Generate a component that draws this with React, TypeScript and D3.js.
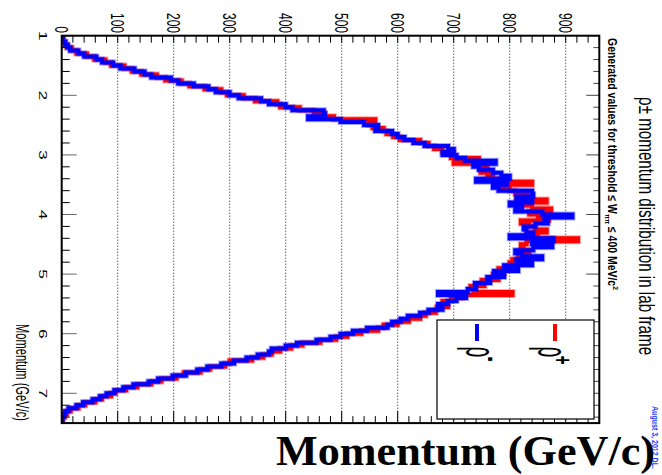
import React, { useEffect, useRef } from 'react';
import * as d3 from 'd3';

const W = 662;
const H = 475;

// ---- data ----
const momentumRange = [1, 7.5];
const countRange = [0, 960];
const countTicks = [0, 100, 200, 300, 400, 500, 600, 700, 800, 900];
const momentumTicks = [1, 2, 3, 4, 5, 6, 7];
const seriesNames = ['ρ⁻', 'ρ⁺'];

// ρ- (blue), 130 bins of 0.05 GeV/c from 1 to 7.5
const rhoMinus = [
  1, 2, 6, 11, 15, 30, 40, 62, 72, 92,
  105, 130, 148, 160, 195, 208, 236, 262, 275, 300,
  316, 356, 370, 400, 412, 468, 470, 440, 498, 540,
  565, 560, 590, 600, 612, 628, 648, 690, 700, 680,
  705, 720, 775, 735, 745, 770, 785, 800, 740, 795,
  770, 780, 840, 842, 812, 840, 800, 822, 810, 858,
  912, 862, 868, 846, 825, 830, 842, 800, 878, 840,
  876, 842, 810, 822, 858, 812, 840, 790, 815, 772,
  790, 760, 765, 738, 740, 725, 672, 722, 705, 690,
  672, 680, 655, 640, 618, 605, 590, 582, 545, 520,
  498, 480, 455, 420, 400, 375, 370, 350, 330, 308,
  285, 260, 242, 222, 198, 172, 155, 128, 110, 94,
  80, 68, 55, 38, 26, 12, 6, 3, 1, 0,
];

// ρ+ (red)
const rhoPlus = [
  1, 3, 7, 9, 18, 26, 45, 58, 78, 88,
  112, 125, 142, 170, 185, 214, 228, 255, 285, 295,
  325, 345, 385, 390, 425, 450, 470, 486, 560, 548,
  555, 575, 580, 592, 604, 640, 655, 665, 680, 700,
  695, 745, 700, 750, 760, 748, 770, 760, 790, 840,
  785, 800, 810, 832, 812, 866, 826, 840, 874, 835,
  850, 870, 820, 835, 845, 866, 830, 850, 922, 830,
  820, 825, 835, 815, 820, 805, 800, 805, 780, 790,
  770, 780, 750, 755, 730, 735, 805, 715, 695, 680,
  690, 670, 668, 650, 640, 620, 600, 575, 565, 535,
  510, 490, 462, 430, 410, 390, 375, 360, 340, 300,
  292, 265, 248, 218, 205, 178, 160, 135, 115, 96,
  88, 72, 60, 42, 30, 16, 9, 5, 2, 0,
];

const titleText = 'ρ± momentum distribution in lab frame';
const axisTitle = 'Momentum (GeV/c)';
const dateText = 'August 3, 2012 DL.';

// ---- layout ----
const FX0 = 61.7, FX1 = 599.3, FY0 = 35.7, FY1 = 423.1;
const SANS = 'Liberation Sans, Arial, Helvetica, sans-serif';
const SERIF = 'Liberation Serif, Times New Roman, serif';
const RED = '#ff0000';
const BLUE = '#0000ff';

const xS = d3.scaleLinear().domain(countRange).range([FX0, FX1]);
const yS = d3.scaleLinear().domain(momentumRange).range([FY0, FY1]);

function stepPoints(vals: number[]): [number, number][] {
  const lo = momentumRange[0];
  const bw = (momentumRange[1] - momentumRange[0]) / vals.length;
  const pts: [number, number][] = [[0, lo]];
  vals.forEach((v, i) => {
    pts.push([v, lo + i * bw]);
    pts.push([v, lo + (i + 1) * bw]);
  });
  pts.push([0, momentumRange[1]]);
  return pts;
}

const lineGen = d3
  .line<[number, number]>()
  .x((d) => xS(d[0]))
  .y((d) => yS(d[1]));

type RTProps = {
  x: number;
  y: number;
  sx?: number;
  sy?: number;
  len?: number;
  anchor?: string;
  size: number;
  weight?: string | number;
  fill?: string;
  family?: string;
  dy?: string;
  children: React.ReactNode;
};

function RText({ x, y, sx = 1, sy = 1, len, anchor = 'start', size, weight = 'normal', fill = '#000', family = SANS, dy = '0', children }: RTProps) {
  return (
    <text
      transform={`translate(${x},${y}) rotate(90) scale(${sx},${sy})`}
      data-len={len}
      data-sy={sy}
      data-x={x}
      data-y={y}
      textAnchor={anchor}
      fontSize={size}
      fontWeight={weight}
      fill={fill}
      fontFamily={family}
      dy={dy}
    >
      {children}
    </text>
  );
}

export default function App() {
  const ref = useRef<SVGSVGElement>(null);

  useEffect(() => {
    if (!ref.current) return;
    d3.select(ref.current)
      .selectAll<SVGTextElement, unknown>('text[data-len]')
      .each(function () {
        const el = this;
        const len = +(el.getAttribute('data-len') || 0);
        if (!len) return;
        const L = el.getComputedTextLength();
        const sx = len / L;
        const sy = el.getAttribute('data-sy');
        const x = el.getAttribute('data-x');
        const y = el.getAttribute('data-y');
        el.setAttribute('transform', `translate(${x},${y}) rotate(90) scale(${sx},${sy})`);
      });
  }, []);

  const minorCounts = d3.range(countRange[0], countRange[1] + 0.001, 20);
  const minorMom = d3.range(momentumRange[0], momentumRange[1] - 0.05, 0.2);

  return (
    <svg
      ref={ref}
      width={W}
      height={H}
      style={{ position: 'absolute', left: 0, top: 0, background: '#fff' }}
    >
      <rect x={0} y={0} width={W} height={H} fill="#fff" />

      {/* grid lines */}
      {countTicks.slice(1).map((c) => (
        <line key={'g' + c} x1={xS(c)} x2={xS(c)} y1={FY0} y2={FY1} stroke="#222" strokeWidth={1} strokeDasharray="1,2" />
      ))}

      {/* histograms */}
      <g clipPath="url(#clip)">
        <path d={lineGen(stepPoints(rhoPlus)) || ''} fill="none" stroke={RED} strokeOpacity={0.35} strokeWidth={6} />
        <path d={lineGen(stepPoints(rhoPlus)) || ''} fill="none" stroke={RED} strokeWidth={4} />
        <path d={lineGen(stepPoints(rhoMinus)) || ''} fill="none" stroke={BLUE} strokeOpacity={0.35} strokeWidth={6} />
        <path d={lineGen(stepPoints(rhoMinus)) || ''} fill="none" stroke={BLUE} strokeWidth={4} />
      </g>
      <defs>
        <clipPath id="clip">
          <rect x={FX0} y={FY0} width={FX1 - FX0} height={FY1 - FY0} />
        </clipPath>
      </defs>

      {/* ticks: top & bottom (counts) */}
      {minorCounts.map((c) => {
        const major = Math.abs(c % 100) < 1e-6;
        return (
          <g key={'ct' + c}>
            <line x1={xS(c)} x2={xS(c)} y1={FY0} y2={FY0 + 7} stroke="#000" strokeWidth={1} />
            <line x1={xS(c)} x2={xS(c)} y1={FY1} y2={FY1 - (major ? 12 : 7)} stroke="#000" strokeWidth={1} />
          </g>
        );
      })}
      {/* ticks: left & right (momentum) */}
      {minorMom.map((m) => {
        const major = Math.abs(m - Math.round(m)) < 1e-6;
        return (
          <g key={'mt' + m.toFixed(2)}>
            <line x1={FX0} x2={FX0 + (major ? 15 : 8)} y1={yS(m)} y2={yS(m)} stroke={major ? '#666' : '#000'} strokeWidth={1} />
            <line x1={FX1} x2={FX1 - (major ? 13 : 6)} y1={yS(m)} y2={yS(m)} stroke="#444" strokeWidth={1} />
          </g>
        );
      })}

      {/* frame */}
      <rect x={FX0} y={FY0} width={FX1 - FX0} height={FY1 - FY0} fill="none" stroke="#000" strokeWidth={2} />

      {/* top tick labels */}
      {countTicks.map((c) => (
        <RText key={'cl' + c} x={xS(c)} y={33} sx={1.0} sy={1.55} size={12} anchor="end" dy="0.36em">
          {String(c)}
        </RText>
      ))}
      {/* left tick labels */}
      {momentumTicks.map((m) => (
        <RText key={'ml' + m} x={43} y={yS(m)} sx={1.45} sy={0.95} size={12} anchor="middle" dy="0.36em">
          {String(m)}
        </RText>
      ))}
      {/* left axis title */}
      <RText x={23} y={421} sy={1.55} len={97} size={12} anchor="end" dy="0.36em">
        {axisTitle}
      </RText>

      {/* main title */}
      <RText x={639} y={97} sy={1.5} len={258} size={15.2}>
        {titleText}
      </RText>
      {/* subtitle */}
      <RText x={608} y={38} sy={1.15} len={252} size={11} weight="bold">
        Generated values for threshold ≤ W
        <tspan fontSize={7} dy="3">ππ</tspan>
        <tspan dy="-3"> ≤ 400 MeV/c</tspan>
        <tspan fontSize={7} dy="-4">2</tspan>
      </RText>
      {/* date */}
      <RText x={652} y={406} sy={1.2} len={63} size={8} weight="bold" fill="#1a3cff">
        {dateText}
      </RText>

      {/* legend */}
      <rect x={437} y={320} width={157} height={99} fill="#fff" stroke="#000" strokeWidth={1.2} />
      <line x1={477} x2={477} y1={324} y2={341} stroke={BLUE} strokeWidth={4} />
      <line x1={555} x2={555} y1={324} y2={341} stroke={RED} strokeWidth={4} />
      <RText x={465.5} y={346.5} sy={2.27} size={19}>ρ</RText>
      <RText x={491.5} y={359} sy={2.5} size={14} weight="bold" anchor="middle" dy="0.3em">-</RText>
      <RText x={538} y={346.5} sy={2.27} size={19}>ρ</RText>
      <RText x={563.5} y={360} sx={1.2} sy={2} size={13} weight="bold" anchor="middle" dy="0.36em">+</RText>

      {/* big bottom label */}
      <text x={276} y={465} fontFamily={SERIF} fontWeight="bold" fontSize={43} textLength={379} lengthAdjust="spacingAndGlyphs">
        {axisTitle}
      </text>
      <desc>{seriesNames.join(',')}</desc>
    </svg>
  );
}
